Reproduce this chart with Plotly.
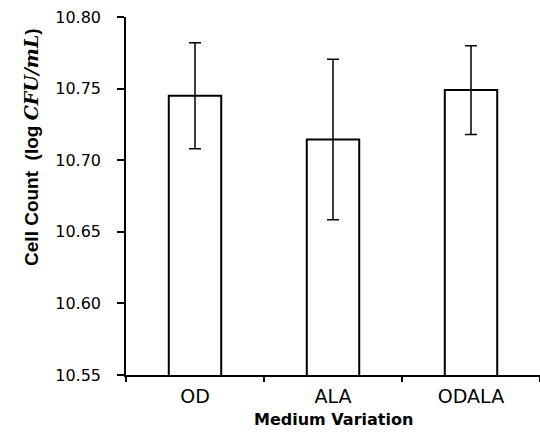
import plotly.graph_objects as go

categories = ["OD", "ALA", "ODALA"]
means = [10.745, 10.7145, 10.749]
errors = [0.037, 0.056, 0.031]
y_ticks = [10.55, 10.60, 10.65, 10.70, 10.75, 10.80]
y_tick_labels = ["10.55", "10.60", "10.65", "10.70", "10.75", "10.80"]

fig = go.Figure()
fig.add_trace(go.Bar(
    x=categories, y=means,
    width=0.38,
    marker=dict(color="white", line=dict(color="black", width=2)),
    error_y=dict(type="data", array=errors, visible=True, color="black", thickness=1.5, width=6),
))

fig.update_layout(
    width=540, height=432,
    margin=dict(l=126, r=0, t=17, b=57),
    paper_bgcolor="white", plot_bgcolor="white",
    showlegend=False,
    xaxis=dict(
        range=[-0.5, 2.5],
        showline=True, linecolor="black", linewidth=1.5,
        ticks="outside", tickson="boundaries", ticklen=5, tickcolor="black", tickwidth=1.5,
        tickfont=dict(family="DejaVu Sans", size=19, color="black"),
        ticklabelstandoff=3,
        showgrid=False, zeroline=False,
    ),
    yaxis=dict(
        range=[10.55, 10.80],
        tickvals=y_ticks, ticktext=y_tick_labels,
        showline=True, linecolor="black", linewidth=1.5,
        ticks="outside", ticklen=7, tickcolor="black", tickwidth=1.5,
        tickfont=dict(family="DejaVu Sans", size=16, color="black"),
        ticklabelstandoff=13,
        showgrid=False, zeroline=False,
    ),
    annotations=[
        dict(text="<b>Medium Variation</b>", xref="paper", yref="paper",
             x=0.5, y=-0.1545, xanchor="center", yanchor="bottom", showarrow=False,
             borderpad=0,
             font=dict(family="DejaVu Sans", size=16, color="black")),
        dict(text="<b>Cell Count  (log </b><span style=\"font-family:'DejaVu Serif'\"><b><i>CFU/mL</i></b></span><b>)</b>",
             xref="paper", yref="paper",
             x=-0.2295, y=0.637, xanchor="center", yanchor="middle", showarrow=False,
             textangle=-90,
             font=dict(family="Liberation Sans", size=19, color="black")),
    ],
)

fig.write_html("out.html")
